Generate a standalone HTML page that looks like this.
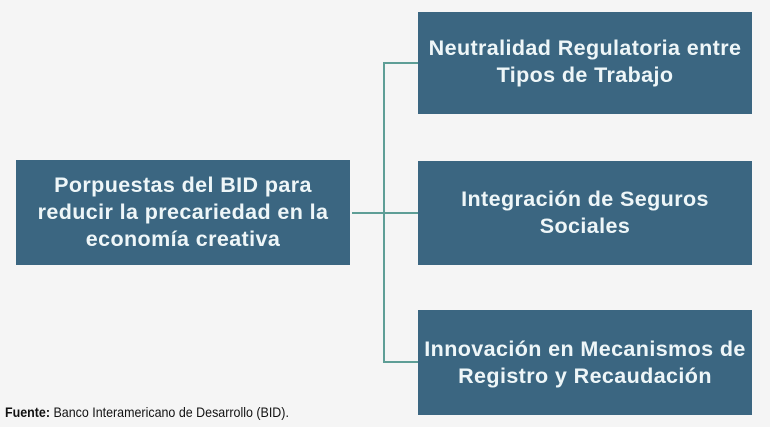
<!DOCTYPE html>
<html><head><meta charset="utf-8"><style>
html,body{margin:0;padding:0}
body{width:770px;height:427px;background:#f5f5f5;position:relative;overflow:hidden;font-family:"Liberation Sans","DejaVu Sans",sans-serif}
.b{position:absolute;background:#3b6681;color:#eef6f8;font-weight:bold;font-size:21.5px;letter-spacing:0.4px;line-height:27px;text-align:center;display:flex;align-items:center;justify-content:center;box-sizing:border-box;padding:0;white-space:nowrap}
.l{position:absolute;background:#5e9e96}
.f{position:absolute;left:5px;top:404px;font-family:"Liberation Sans",sans-serif;font-size:14px;color:#111;transform:scaleX(0.89);transform-origin:left top;white-space:nowrap}
</style></head><body>
<div class="b" style="left:16px;top:160px;width:334px;height:105px">Porpuestas del BID para<br>reducir la precariedad en la<br>economía creativa</div>
<div class="b" style="left:418px;top:12px;width:334px;height:102px;padding-bottom:2px">Neutralidad Regulatoria entre<br>Tipos de Trabajo</div>
<div class="b" style="left:418px;top:161px;width:334px;height:104px">Integración de Seguros<br>Sociales</div>
<div class="b" style="left:418px;top:310px;width:334px;height:105px">Innovación en Mecanismos de<br>Registro y Recaudación</div>
<div class="l" style="left:383px;top:62px;width:2px;height:301px"></div>
<div class="l" style="left:383px;top:62px;width:35px;height:2px"></div>
<div class="l" style="left:383px;top:361px;width:35px;height:2px"></div>
<div class="l" style="left:352px;top:212px;width:66px;height:2px"></div>
<div class="f"><b>Fuente:</b> Banco Interamericano de Desarrollo (BID).</div>
</body></html>
